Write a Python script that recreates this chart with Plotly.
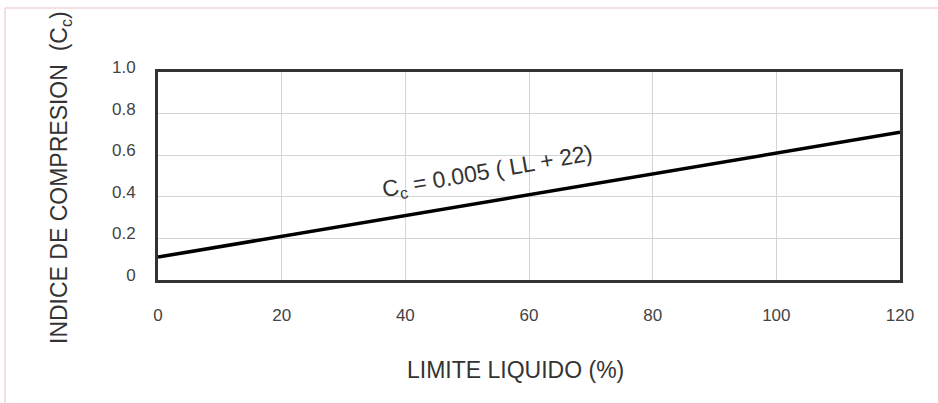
import plotly.graph_objects as go

# Data: Cc = 0.005 (LL + 22)
ll_values = [0, 120]
cc_values = [0.11, 0.71]
x_ticks = [0, 20, 40, 60, 80, 100, 120]
y_ticks = [0, 0.2, 0.4, 0.6, 0.8, 1.0]
y_tick_labels = ["0", "0.2", "0.4", "0.6", "0.8", "1.0"]

L, R, T, B = 158, 38, 72, 123
PW, PH = 938 - L - R, 403 - T - B

def px(x):
    return (x - L) / PW

def py(y):
    return (403 - B - y) / PH

fig = go.Figure()
fig.add_trace(go.Scatter(x=ll_values, y=cc_values, mode="lines",
                         line=dict(color="black", width=3.5), showlegend=False,
                         hoverinfo="skip"))

fig.add_annotation(x=px(487), y=py(172), xref="paper", yref="paper",
                   text="C<sub>c</sub> = 0.005 ( LL + 22)", showarrow=False,
                   textangle=-10,
                   font=dict(family="Liberation Sans", size=23, color="#333"))

fig.add_annotation(x=px(515), y=py(370), xref="paper", yref="paper",
                   text="LIMITE LIQUIDO (%)", showarrow=False, yanchor="middle",
                   font=dict(family="Liberation Sans", size=23, color="#333"))

fig.add_annotation(x=px(60), y=py(178), xref="paper", yref="paper",
                   text="INDICE DE COMPRESION  (C<sub>c</sub>)", showarrow=False,
                   textangle=-90, xanchor="center", yanchor="middle",
                   font=dict(family="Liberation Sans", size=23, color="#333"))

# decorative pink page border (top and left)
fig.add_shape(type="line", xref="paper", yref="paper",
              x0=px(5), x1=px(938), y0=py(8), y1=py(8),
              line=dict(color="#f2d5da", width=1.5))
fig.add_shape(type="line", xref="paper", yref="paper",
              x0=px(5), x1=px(5), y0=py(8), y1=py(403),
              line=dict(color="#f2d5da", width=1.5))

fig.update_layout(
    width=938, height=403,
    margin=dict(l=L, r=R, t=T, b=B),
    paper_bgcolor="white", plot_bgcolor="white",
    font=dict(family="Liberation Sans", color="#444"),
    xaxis=dict(range=[0, 120], tickvals=x_ticks, showgrid=True, gridcolor="#d4d4d4",
               gridwidth=1, zeroline=False, showline=True, linecolor="#333", linewidth=3,
               mirror=True, ticks="outside", ticklen=18, tickcolor="rgba(0,0,0,0)",
               tickfont=dict(size=17, color="#444")),
    yaxis=dict(range=[0, 1], tickvals=y_ticks, ticktext=y_tick_labels, showgrid=True,
               gridcolor="#d4d4d4", gridwidth=1, zeroline=False, showline=True,
               linecolor="#333", linewidth=3, mirror=True, ticks="outside", ticklen=16,
               ticklabelshift=-5,
               tickcolor="rgba(0,0,0,0)", tickfont=dict(size=17, color="#444")),
)

fig.write_html("out.html", config={"displayModeBar": False},
               post_script="document.body.style.margin='0px';")
